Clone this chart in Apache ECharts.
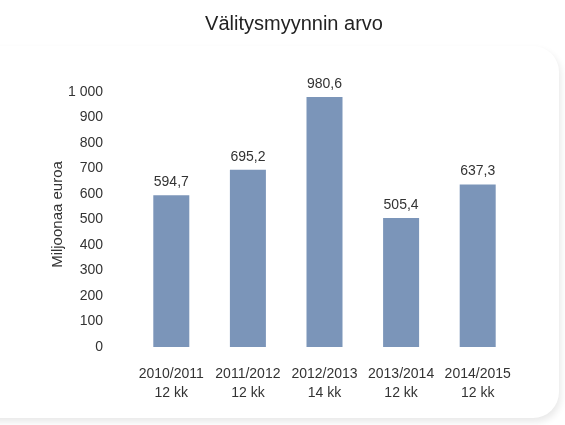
<!DOCTYPE html>
<html>
<head>
<meta charset="utf-8">
<title>Välitysmyynnin arvo</title>
<style>
  html, body { margin: 0; padding: 0; background: #fff; }
  #container { width: 565px; height: 425px; }
</style>
</head>
<body>
<div id="container"></div>
<script src="https://cdn.jsdelivr.net/npm/echarts@6/dist/echarts.min.js"></script>
<script>
  var periods = ['2010/2011', '2011/2012', '2012/2013', '2013/2014', '2014/2015'];
  var durations = ['12 kk', '12 kk', '14 kk', '12 kk', '12 kk'];
  var values = [594.7, 695.2, 980.6, 505.4, 637.3];

  var categories = periods.map(function (p, i) { return p + '\n' + durations[i]; });
  var font = 'Liberation Sans, Arial, sans-serif';

  function fmt(v) {
    // Finnish style: space as thousands separator, comma decimal
    return String(v).replace('.', ',').replace(/\B(?=(\d{3})+(?!\d))/g, ' ');
  }

  var chart = echarts.init(document.getElementById('container'));
  chart.setOption({
    backgroundColor: '#fff',
    animation: false,
    textStyle: { fontFamily: font },
    graphic: [{
      type: 'rect',
      z: -10,
      shape: { x: -30, y: 46, width: 589, height: 372, r: 26 },
      style: {
        fill: '#fff',
        shadowBlur: 7,
        shadowColor: 'rgba(0,0,0,0.09)',
        shadowOffsetX: 2,
        shadowOffsetY: 4
      }
    }],
    title: {
      text: 'Välitysmyynnin arvo',
      left: 289,
      textAlign: 'center',
      top: 9,
      textStyle: { fontSize: 20, fontWeight: 'normal', color: '#222', fontFamily: font }
    },
    grid: { left: 133, right: 49, top: 92, bottom: 78 },
    xAxis: {
      type: 'category',
      data: categories,
      axisLine: { show: false },
      axisTick: { show: false },
      axisLabel: {
        interval: 0,
        color: '#333',
        fontSize: 14,
        lineHeight: 19,
        margin: 18,
        fontFamily: font
      }
    },
    yAxis: {
      type: 'value',
      min: 0,
      max: 1000,
      interval: 100,
      name: 'Miljoonaa euroa',
      nameLocation: 'middle',
      nameGap: 68,
      nameMoveOverlap: false,
      nameTextStyle: { color: '#333', fontSize: 15, fontFamily: font, padding: [0, 0, 0, 10] },
      splitLine: { show: false },
      axisLine: { show: false },
      axisTick: { show: false },
      axisLabel: {
        color: '#333',
        fontSize: 14,
        margin: 30,
        fontFamily: font,
        formatter: fmt
      }
    },
    series: [{
      type: 'bar',
      data: values,
      barWidth: 36,
      itemStyle: { color: '#7b95b9' },
      label: {
        show: true,
        position: 'top',
        distance: 6,
        color: '#333',
        fontSize: 14,
        fontFamily: font,
        formatter: function (p) { return fmt(p.value); }
      }
    }]
  });
</script>
</body>
</html>
